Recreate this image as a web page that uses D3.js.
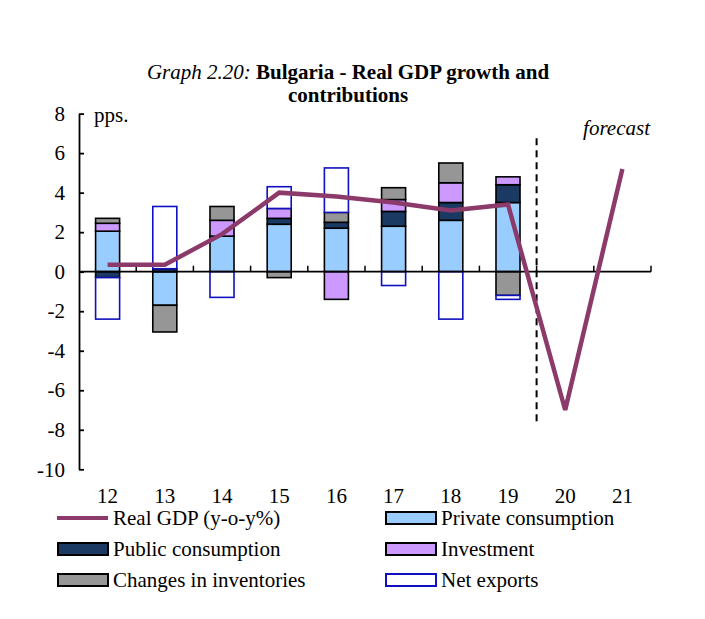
<!DOCTYPE html>
<html>
<head>
<meta charset="utf-8">
<script src="https://cdn.jsdelivr.net/npm/d3@7/dist/d3.min.js"></script>
<style>
  body { margin: 0; background: #fff; }
  text { font-family: "Liberation Serif", "Times New Roman", serif; fill: #000; }
</style>
</head>
<body>
<svg id="chart" width="705" height="619"></svg>
<script>
// years on the axis, bars only exist for 12-19
const years = ["12", "13", "14", "15", "16", "17", "18", "19", "20", "21"];
const barYears = ["12", "13", "14", "15", "16", "17", "18", "19"];

const privateCons = [2.05, -1.7, 1.8, 2.4, 2.2, 2.3, 2.6, 3.5];
const publicCons = [-0.3, 0.15, 0, 0.3, 0.3, 0.75, 0.9, 0.9];
const investment = [0.4, 0, 0.8, 0.5, -1.4, 0.6, 1.0, 0.4];
const inventories = [0.25, -1.35, 0.7, -0.3, 0.5, 0.6, 1.0, -1.2];
const netExports = [-2.1, 3.15, -1.3, 1.1, 2.25, -0.7, -2.4, -0.2];
const gdp = [0.35, 0.35, 1.9, 4.0, 3.8, 3.5, 3.1, 3.4, -7.0, 5.2];

const yTicks = [8, 6, 4, 2, 0, -2, -4, -6, -8, -10];

const series = [
    { key: "private", name: "Private consumption", values: privateCons, fill: "#99ccff", stroke: "#000" },
    { key: "public", name: "Public consumption", values: publicCons, fill: "#1b3a63", stroke: "#000" },
    { key: "investment", name: "Investment", values: investment, fill: "#cc99ff", stroke: "#000" },
    { key: "inventories", name: "Changes in inventories", values: inventories, fill: "#969696", stroke: "#000" },
    { key: "net", name: "Net exports", values: netExports, fill: "#fff", stroke: "#1010c0" }
];
const lineColor = "#8c3a6a";
const fs = "21px";

const svg = d3.select("#chart");

const x = d3.scaleBand().domain(years).range([79, 651]).padding(0);
const y = d3.scaleLinear().domain([-10, 8]).range([469.3, 113.6]);
const barW = x.bandwidth() * 0.42;

// title
const title = svg.append("text").attr("text-anchor", "middle").attr("x", 348).attr("y", 79)
    .style("font-size", fs);
title.append("tspan").style("font-style", "italic").text("Graph 2.20: ");
title.append("tspan").style("font-weight", "bold").text("Bulgaria - Real GDP growth and");
svg.append("text").attr("text-anchor", "middle").attr("x", 348).attr("y", 102)
    .style("font-size", fs).style("font-weight", "bold").text("contributions");

// stacked bars
const rows = barYears.map((yr, i) => {
    const r = { year: yr };
    series.forEach(s => r[s.key] = s.values[i]);
    return r;
});
const stack = d3.stack().keys(series.map(s => s.key)).offset(d3.stackOffsetDiverging);
const stacked = stack(rows);

stacked.forEach((layer, li) => {
    const s = series[li];
    svg.append("g")
        .selectAll("rect")
        .data(layer.filter(d => d[1] - d[0] !== 0))
        .enter().append("rect")
        .attr("x", d => x(d.data.year) + (x.bandwidth() - barW) / 2)
        .attr("width", barW)
        .attr("y", d => y(Math.max(d[0], d[1])))
        .attr("height", d => Math.abs(y(d[0]) - y(d[1])))
        .attr("fill", s.fill)
        .attr("stroke", s.stroke)
        .attr("stroke-width", 1.6);
});

// zero line with category ticks
svg.append("line")
    .attr("x1", x.range()[0]).attr("x2", x.range()[1])
    .attr("y1", y(0)).attr("y2", y(0))
    .attr("stroke", "#000").attr("stroke-width", 1.8);
svg.append("g")
    .selectAll("line")
    .data(years.slice(1).concat(["end"]))
    .enter().append("line")
    .attr("x1", d => d === "end" ? x.range()[1] : x(d))
    .attr("x2", d => d === "end" ? x.range()[1] : x(d))
    .attr("y1", y(0)).attr("y2", y(0) - 6)
    .attr("stroke", "#000").attr("stroke-width", 1.5);

// y axis
const yAxis = svg.append("g")
    .attr("transform", `translate(${x.range()[0]},0)`)
    .call(d3.axisLeft(y).tickValues(yTicks).tickFormat(d => String(d))
        .tickSize(-5).tickSizeOuter(0).tickPadding(14));
yAxis.selectAll("path, line").attr("stroke", "#000").attr("stroke-width", 1.8);
yAxis.attr("font-family", null).attr("font-size", null);
yAxis.selectAll("text").style("font-size", fs);

// x labels
const xAxis = svg.append("g")
    .attr("transform", `translate(0,${y(-10)})`)
    .call(d3.axisBottom(x).tickSize(0).tickPadding(19));
xAxis.select(".domain").remove();
xAxis.attr("font-family", null).attr("font-size", null);
xAxis.selectAll("text").style("font-size", fs);

// forecast divider
svg.append("line")
    .attr("x1", x("20")).attr("x2", x("20"))
    .attr("y1", y(6.75)).attr("y2", y(-7.6))
    .attr("stroke", "#000").attr("stroke-width", 2)
    .attr("stroke-dasharray", "7,5");

svg.append("text").attr("x", 650).attr("y", 135).attr("text-anchor", "end")
    .style("font-size", fs).style("font-style", "italic").text("forecast");
svg.append("text").attr("x", 94).attr("y", 122)
    .style("font-size", fs).text("pps.");

// GDP line
const line = d3.line()
    .x((d, i) => x(years[i]) + x.bandwidth() / 2)
    .y(d => y(d));
svg.append("path")
    .datum(gdp)
    .attr("d", line)
    .attr("fill", "none")
    .attr("stroke", lineColor)
    .attr("stroke-width", 4.5)
    .attr("stroke-linejoin", "miter");

// legend
const legendItems = [
    { name: "Real GDP (y-o-y%)", type: "line" },
    series[0], series[1], series[2], series[3], series[4]
];
const legend = svg.append("g");
legendItems.forEach((it, i) => {
    const col = i % 2, row = Math.floor(i / 2);
    const lx = col === 0 ? 57 : 385;
    const ly = 518 + row * 31;
    const g = legend.append("g").attr("transform", `translate(${lx},${ly})`);
    if (it.type === "line") {
        g.append("line").attr("x1", 0).attr("x2", 51).attr("y1", 0).attr("y2", 0)
            .attr("stroke", lineColor).attr("stroke-width", 4);
    } else {
        g.append("rect").attr("x", 1).attr("y", -6).attr("width", 50).attr("height", 12)
            .attr("fill", it.fill).attr("stroke", it.stroke).attr("stroke-width", 2);
    }
    g.append("text").attr("x", 56).attr("y", 7).style("font-size", fs).text(it.name);
});
</script>
</body>
</html>
